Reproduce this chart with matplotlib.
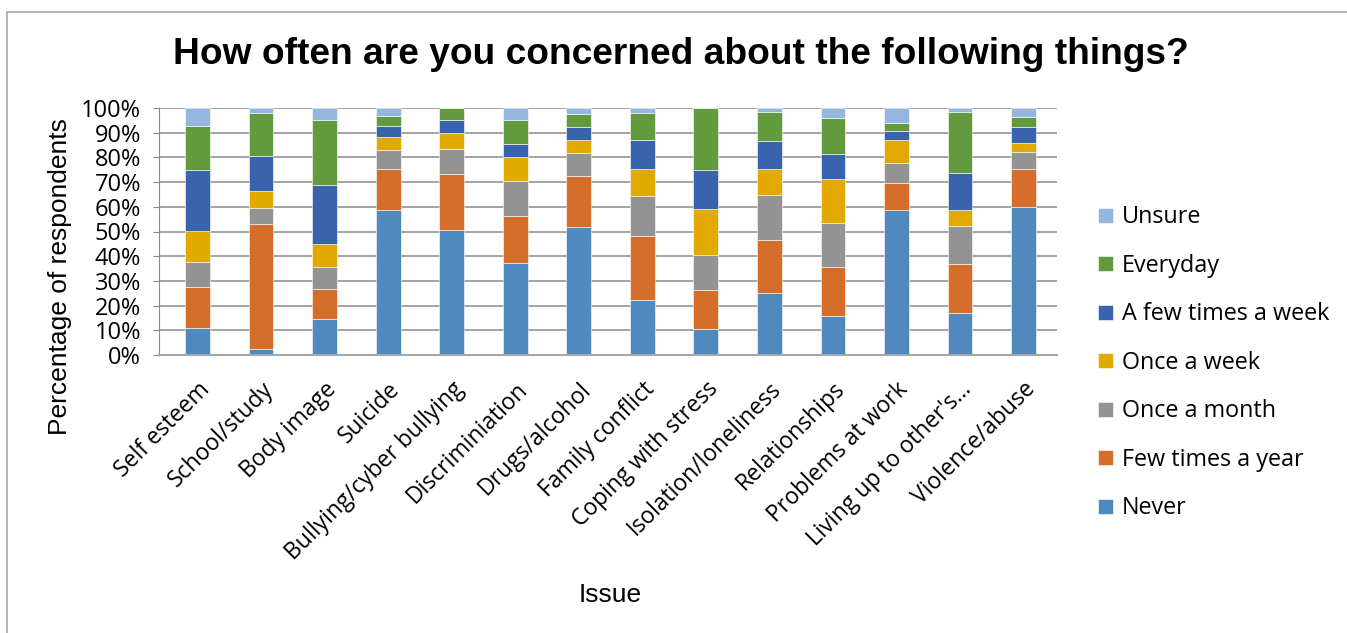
import matplotlib
matplotlib.use("Agg")
import matplotlib.pyplot as plt
import numpy as np
from matplotlib.patches import Rectangle

categories = ["Self esteem", "School/study", "Body image", "Suicide",
              "Bullying/cyber bullying", "Discriminiation", "Drugs/alcohol",
              "Family conflict", "Coping with stress", "Isolation/loneliness",
              "Relationships", "Problems at work", "Living up to other's...",
              "Violence/abuse"]

never          = [11.1,  2.3, 14.6, 58.6, 50.5, 37.2, 52.0, 22.4, 10.4, 25.0, 15.7, 58.6, 17.2, 60.1]
few_year       = [16.6, 50.7, 12.0, 16.8, 22.6, 19.0, 20.4, 25.7, 15.8, 21.4, 19.8, 11.0, 19.6, 15.2]
once_month     = [ 9.9,  6.7,  9.2,  7.4, 10.5, 14.2,  9.4, 16.1, 14.2, 18.2, 17.9,  8.1, 15.6,  6.9]
once_week      = [12.8,  6.7,  9.3,  5.3,  6.3,  9.7,  5.1, 11.1, 18.8, 10.9, 17.8,  9.5,  6.2,  3.6]
few_week       = [24.5, 14.0, 23.8,  4.5,  5.2,  5.3,  5.3, 11.6, 15.7, 11.1, 10.0,  3.5, 15.0,  6.4]
everyday       = [17.7, 17.6, 26.4,  4.3,  4.9,  9.9,  5.2, 10.9, 25.1, 11.6, 14.6,  3.2, 24.8,  4.0]
unsure         = [ 7.4,  2.0,  4.7,  3.1,  0.0,  4.7,  2.6,  2.2,  0.0,  1.8,  4.2,  6.1,  1.6,  3.8]

series_names = ["Never", "Few times a year", "Once a month", "Once a week",
                "A few times a week", "Everyday", "Unsure"]
series_vals = [never, few_year, once_month, once_week, few_week, everyday, unsure]
colors = ["#4F89BD", "#D46E2A", "#939393", "#E2A900", "#3A63AD", "#639A3D", "#95B7DF"]

fig = plt.figure(figsize=(13.47, 6.33), dpi=100)
fig.patches.append(Rectangle((7/1347, -0.05), 1.1, 1.05-12/633, transform=fig.transFigure,
                             fill=False, edgecolor="#A6A6A6", linewidth=1.2))
ax = fig.add_axes([159/1347, 1-355/633, 898/1347, 247/633])

x = np.arange(len(categories))
bottom = np.zeros(len(categories))
handles = []
for name, vals, c in zip(series_names, series_vals, colors):
    v = np.array(vals)
    h = ax.bar(x, v, 0.39, bottom=bottom, color=c, label=name,
               edgecolor="white", linewidth=0.4)
    handles.append(h)
    bottom += v

ax.set_xlim(-0.606, len(categories) - 1 + 0.527)
ax.set_ylim(0, 100)
ax.set_yticks(np.arange(0, 101, 10))
ax.set_yticklabels([f"{t}%" for t in range(0, 101, 10)],
                   fontsize=17, family="Open Sans")
ax.set_xticks(x)
ax.set_xticklabels(categories, rotation=45, ha="right", rotation_mode="anchor",
                   fontsize=16.5, family="Open Sans")
ax.tick_params(axis="x", length=0, pad=16)
ax.tick_params(axis="y", length=4, color="#888888", direction="out", pad=9)
ax.yaxis.grid(True, color="#8C8C8C", linewidth=1.1)
ax.set_axisbelow(True)
for s in ["top", "right"]:
    ax.spines[s].set_visible(False)
ax.spines["left"].set_color("#888888")
ax.spines["bottom"].set_color("#A6A6A6")
ax.spines["bottom"].set_linewidth(1.5)

fig.text(681/1347, 1-55/633, "How often are you concerned about the following things?",
         ha="center", va="center", fontsize=26.7, fontweight="bold", family="Liberation Sans")
fig.text(60/1347, 1-277/633, "Percentage of respondents", rotation=90,
         ha="center", va="center", fontsize=19, family="Liberation Sans")
fig.text(610/1347, 1-595/633, "Issue", ha="center", va="center",
         fontsize=19, family="Liberation Sans")

leg = fig.legend(handles[::-1], series_names[::-1], loc="upper left",
                 bbox_to_anchor=(1089/1347, 1-196/633), frameon=False,
                 prop={"family": "Open Sans", "size": 16.8},
                 handlelength=0.62, handleheight=0.62, handletextpad=0.4,
                 labelspacing=1.05, borderaxespad=0)

fig.savefig("out.png", dpi=100)
